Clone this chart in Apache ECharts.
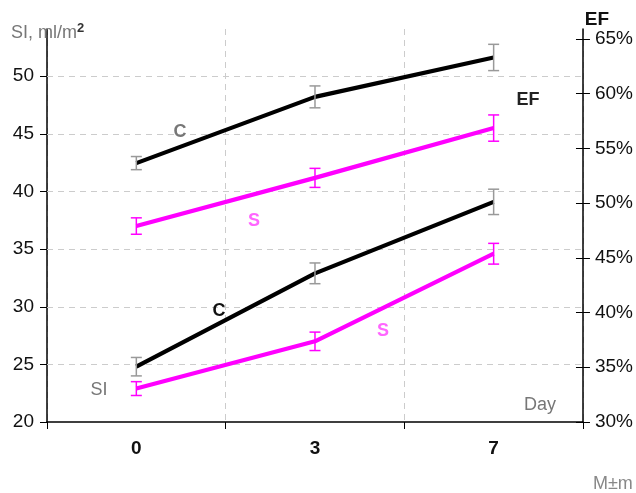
<!DOCTYPE html>
<html><head><meta charset="utf-8">
<script src="https://cdn.jsdelivr.net/npm/echarts@6/dist/echarts.min.js"></script>
<style>html,body{margin:0;padding:0;background:#fff}#c{width:636px;height:493px}</style>
</head><body><div id="c"></div>
<script>
const days = ['0', '3', '7'];
// SI (left axis, ml/m2)
const siC = [24.8, 32.9, 39.1];
const siCErr = [0.8, 0.9, 1.1];
const siS = [22.9, 27.0, 34.6];
const siSErr = [0.6, 0.8, 0.9];
// EF (right axis, %)
const efC = [53.65, 59.7, 63.3];
const efCErr = [0.6, 1.0, 1.2];
const efS = [47.9, 52.3, 56.85];
const efSErr = [0.75, 0.87, 1.2];
const leftTicks = [20, 25, 30, 35, 40, 45, 50];
const rightTicks = [30, 35, 40, 45, 50, 55, 60, 65];
const leftGrid = [25, 30, 35, 40, 45, 50];

const FONT = 'Liberation Sans, Arial, sans-serif';
const chart = echarts.init(document.getElementById('c'), null, {renderer: 'canvas'});

function errData(vals, errs) { return vals.map((v, i) => [i, v - errs[i], v + errs[i]]); }
function errSeries(vals, errs, yIdx, color) {
  return {
    type: 'custom', yAxisIndex: yIdx, z: 6,
    data: errData(vals, errs),
    renderItem: function (params, api) {
      const x = api.value(0);
      const lo = api.coord([x, api.value(1)]);
      const hi = api.coord([x, api.value(2)]);
      const w = 5.5;
      const st = {stroke: color, lineWidth: 1.5};
      return {type: 'group', children: [
        {type: 'line', shape: {x1: lo[0], y1: lo[1], x2: hi[0], y2: hi[1]}, style: st},
        {type: 'line', shape: {x1: lo[0] - w, y1: lo[1], x2: lo[0] + w, y2: lo[1]}, style: st},
        {type: 'line', shape: {x1: hi[0] - w, y1: hi[1], x2: hi[0] + w, y2: hi[1]}, style: st}
      ]};
    }
  };
}
function lineSeries(vals, yIdx, color) {
  return {type: 'line', yAxisIndex: yIdx, data: vals, symbol: 'none', z: 4,
    lineStyle: {color: color, width: 4.2}, silent: true};
}

function txt(x, y, t, color, bold, size, align) {
  return {type: 'text', x: x, y: y, z: 10, style: {text: t, fill: color, font: (bold ? 'bold ' : '') + (size || 18) + 'px ' + FONT, align: align || 'center', verticalAlign: 'middle'}};
}

chart.setOption({
  animation: false,
  grid: {left: 47, right: 52, top: 29, bottom: 71, containLabel: false},
  xAxis: {
    type: 'category', data: days, boundaryGap: true,
    axisLine: {lineStyle: {color: '#000', width: 1.5}},
    axisTick: {show: true, length: 7, lineStyle: {color: '#000'}},
    axisLabel: {margin: 17, fontFamily: FONT, fontSize: 19, fontWeight: 'bold', color: '#111'},
    splitLine: {show: true, lineStyle: {color: '#ccc', type: [6, 5], width: 1}}
  },
  yAxis: [
    {type: 'value', position: 'left', min: 20, max: 54.1,
      axisLine: {show: true, lineStyle: {color: '#000', width: 1.5}},
      axisTick: {show: true, length: 7, customValues: leftTicks, lineStyle: {color: '#000'}},
      axisLabel: {margin: 13, customValues: leftTicks, fontFamily: FONT, fontSize: 19, color: '#111'},
      splitLine: {show: false}},
    {type: 'value', position: 'right', min: 30, max: 65.9,
      axisLine: {show: true, lineStyle: {color: '#000', width: 1.5}},
      axisTick: {show: true, length: 7, customValues: rightTicks, lineStyle: {color: '#000'}},
      axisLabel: {margin: 12, customValues: rightTicks, formatter: '{value}%', fontFamily: FONT, fontSize: 19, color: '#111'},
      splitLine: {show: false}},
    {type: 'value', position: 'right', min: 30, max: 65.9,
      axisLine: {show: false},
      axisTick: {show: true, inside: true, length: 7, customValues: rightTicks, lineStyle: {color: '#000'}},
      axisLabel: {show: false},
      splitLine: {show: false}}
  ],
  series: [
    {type: 'line', yAxisIndex: 0, data: [], silent: true, z: 1,
      markLine: {silent: true, z: 1, symbol: 'none', label: {show: false},
        lineStyle: {color: '#ccc', type: [6, 5], width: 1},
        data: leftGrid.map(v => ({yAxis: v}))}},
    lineSeries(siC, 0, '#000'),
    lineSeries(siS, 0, '#ff00ff'),
    lineSeries(efC, 1, '#000'),
    lineSeries(efS, 1, '#ff00ff'),
    errSeries(siC, siCErr, 0, '#999'),
    errSeries(siS, siSErr, 0, '#ff00ff'),
    errSeries(efC, efCErr, 1, '#999'),
    errSeries(efS, efSErr, 1, '#ff00ff')
  ],
  graphic: [
    {type: 'text', x: 11, y: 22, z: 10, style: {text: '{a|SI, ml/m}{b|2}', rich: {
      a: {fontFamily: FONT, fontSize: 18, fill: '#777', color: '#777'},
      b: {fontFamily: FONT, fontSize: 13, fontWeight: 'bold', fill: '#333', color: '#333', verticalAlign: 'top', padding: [0, 0, 9, 0]}}}},
    txt(597, 20, 'EF', '#111', true, 19),
    txt(180, 132, 'C', '#777', true, 18),
    txt(254, 221, 'S', '#ff66ff', true, 18),
    txt(219, 311, 'C', '#111', true, 18),
    txt(383, 331, 'S', '#ff66ff', true, 18),
    txt(99, 390, 'SI', '#777', false, 18),
    txt(528, 100, 'EF', '#222', true, 18),
    txt(540, 405, 'Day', '#777', false, 18),
    txt(593, 484, 'M±m', '#888', false, 18, 'left')
  ]
});
</script></body></html>
